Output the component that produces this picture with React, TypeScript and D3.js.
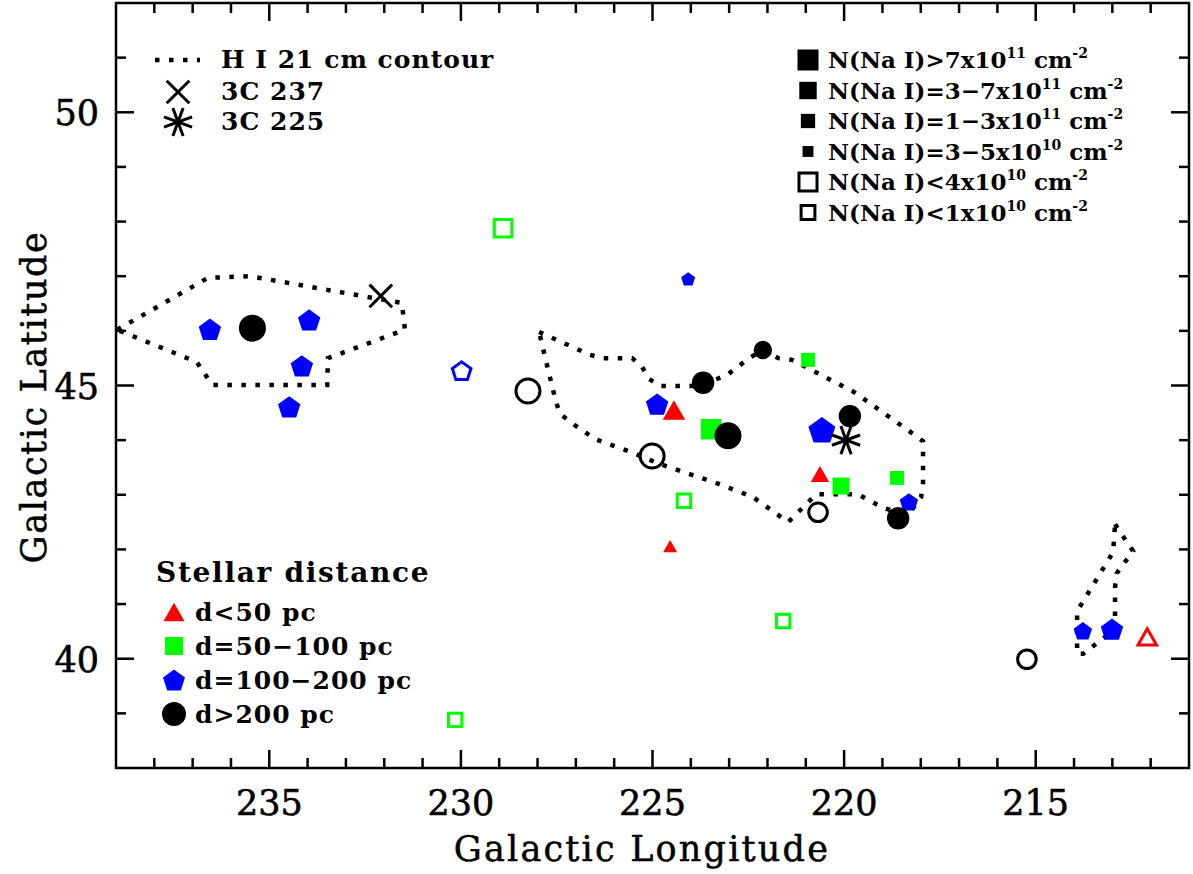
import React, { useEffect, useRef } from "react";
import * as d3 from "d3";

// H I 21 cm contours, [longitude, latitude]
const contourWest: [number, number][] = [
  [238.97, 46.02], [236.6, 46.97], [235.5, 47.0], [231.54, 46.51], [231.46, 46.02],
  [233.47, 45.5], [233.49, 45.01], [236.49, 45.01], [236.89, 45.43],
];
const contourCentral: [number, number][] = [
  [227.96, 45.98], [226.63, 45.56], [226.29, 45.5], [225.53, 45.5], [225.27, 45.34],
  [225.09, 45.12], [224.8, 44.99], [223.8, 44.99], [223.06, 45.19], [222.48, 45.5],
  [222.12, 45.65], [221.72, 45.5], [221.36, 45.47], [219.74, 44.88], [218.23, 44.13],
  [217.94, 43.98], [217.94, 43.22], [217.99, 42.96], [218.2, 42.76], [218.46, 42.65],
  [218.98, 42.76], [219.64, 43.01], [220.73, 43.01], [221.46, 42.5], [222.38, 42.96],
  [223.39, 43.23], [224.8, 43.56], [225.48, 43.76], [226.5, 44.02], [227.1, 44.31],
  [227.41, 44.48], [227.52, 44.7], [227.78, 45.45],
];
const contourEast: [number, number][] = [
  [212.93, 42.46], [212.46, 41.97], [212.88, 41.57], [212.93, 41.31], [212.93, 40.54],
  [213.76, 40.09], [213.92, 40.09], [213.92, 40.87], [212.98, 41.95],
];

// N(Na I) bins
const naBins = ["gt7e11", "3to7e11", "1to3e11", "3to5e10", "lt4e10", "lt1e10"];
const upperLimits = ["lt4e10", "lt1e10"];
const naLabels = [
  { text: "N(Na I)>7x10", exp: "11" },
  { text: "N(Na I)=3\u22127x10", exp: "11" },
  { text: "N(Na I)=1\u22123x10", exp: "11" },
  { text: "N(Na I)=3\u22125x10", exp: "10" },
  { text: "N(Na I)<4x10", exp: "10" },
  { text: "N(Na I)<1x10", exp: "10" },
];

// stars: [longitude, latitude, N(Na I) bin]
const starsNear: [number, number, string][] = [
  [224.44, 44.55, "3to7e11"],
  [220.63, 43.38, "1to3e11"],
  [224.54, 42.06, "3to5e10"],
  [212.09, 40.4, "lt1e10"],
];
const starsMid: [number, number, string][] = [
  [228.9, 47.88, "lt4e10"],
  [223.47, 44.2, "gt7e11"],
  [224.18, 42.89, "lt1e10"],
  [220.94, 45.47, "1to3e11"],
  [220.08, 43.16, "3to7e11"],
  [218.62, 43.31, "1to3e11"],
  [221.59, 40.69, "lt1e10"],
  [230.15, 38.88, "lt1e10"],
];
const starsFar: [number, number, string][] = [
  [236.55, 46.03, "3to7e11"],
  [233.96, 46.2, "3to7e11"],
  [234.15, 45.36, "3to7e11"],
  [234.48, 44.61, "3to7e11"],
  [229.98, 45.27, "lt1e10"],
  [224.07, 46.95, "3to5e10"],
  [224.88, 44.66, "3to7e11"],
  [220.58, 44.19, "gt7e11"],
  [218.31, 42.87, "1to3e11"],
  [213.77, 40.51, "1to3e11"],
  [213.01, 40.54, "3to7e11"],
];
const starsDistant: [number, number, string][] = [
  [235.44, 46.05, "gt7e11"],
  [228.25, 44.9, "lt4e10"],
  [225.01, 43.71, "lt4e10"],
  [223.68, 45.05, "3to7e11"],
  [223.03, 44.08, "gt7e11"],
  [222.12, 45.65, "1to3e11"],
  [219.85, 44.44, "3to7e11"],
  [218.59, 42.57, "3to7e11"],
  [220.68, 42.68, "lt1e10"],
  [215.23, 39.99, "lt1e10"],
];

const distanceGroups = [
  { label: "d<50 pc", shape: "triangle", color: "#ff0000", stars: starsNear },
  { label: "d=50\u2212100 pc", shape: "square", color: "#00ff00", stars: starsMid },
  { label: "d=100\u2212200 pc", shape: "pentagon", color: "#0000ff", stars: starsFar },
  { label: "d>200 pc", shape: "circle", color: "#000000", stars: starsDistant },
];

const radioSources = [
  { name: "3C 237", lon: 232.09, lat: 46.64, marker: "cross" },
  { name: "3C 225", lon: 219.95, lat: 44.0, marker: "asterisk" },
];

const lonTicks = [235, 230, 225, 220, 215];
const latTicks = [50, 45, 40];

const width = 1193;
const height = 874;
const margin = { top: 3, right: 4, bottom: 106, left: 116 };
const serif = "'DejaVu Serif', serif";

const baseWidth: Record<string, number> = { circle: 27, square: 20.5, pentagon: 27, triangle: 27 };

const markerPath = (shape: string, w: number) => {
  if (shape === "circle") return d3.symbol(d3.symbolCircle, Math.PI * (w / 2) ** 2)();
  if (shape === "square") return d3.symbol(d3.symbolSquare, w * w)();
  if (shape === "triangle") {
    const h = w * 0.87;
    return `M0,${-h / 2}L${w / 2},${h / 2}L${-w / 2},${h / 2}Z`;
  }
  // pentagon, point up, bbox centred
  const R = w / 1.902;
  const dy = 0.0955 * R;
  const pts = d3.range(5).map((i) => {
    const a = -Math.PI / 2 + (i * 2 * Math.PI) / 5;
    return [R * Math.cos(a), R * Math.sin(a) + dy];
  });
  return "M" + pts.map((p) => p.join(",")).join("L") + "Z";
};

const drawSource = (g: any, marker: string, x: number, y: number) => {
  const angles = marker === "cross" ? [45, 135] : [20, 70, 110, 160];
  const r = marker === "cross" ? 16 : 15;
  angles.forEach((deg) => {
    const a = (deg * Math.PI) / 180;
    g.append("line")
      .attr("x1", x - r * Math.cos(a))
      .attr("y1", y - r * Math.sin(a))
      .attr("x2", x + r * Math.cos(a))
      .attr("y2", y + r * Math.sin(a))
      .attr("stroke", "#000")
      .attr("stroke-width", 3);
  });
};

const App = () => {
  const svgRef = useRef<SVGSVGElement>(null);

  useEffect(() => {
    document.body.style.margin = "0";
    const svg = d3.select(svgRef.current).attr("width", width).attr("height", height);
    svg.selectAll("*").remove();

    const innerWidth = width - margin.left - margin.right;
    const innerHeight = height - margin.top - margin.bottom;

    const x = d3.scaleLinear().domain([239, 211]).range([0, innerWidth]);
    const y = d3.scaleLinear().domain([38, 52]).range([innerHeight, 0]);
    const scaleFor = d3.scaleOrdinal<string, number>().domain(naBins).range([1, 0.83, 0.68, 0.52, 1, 0.8]);

    const g = svg.append("g").attr("transform", `translate(${margin.left},${margin.top})`);

    svg
      .append("defs")
      .append("clipPath")
      .attr("id", "plot-clip")
      .append("rect")
      .attr("width", innerWidth)
      .attr("height", innerHeight);

    // contours
    const contourLine = d3
      .line<[number, number]>()
      .x((d) => x(d[0]))
      .y((d) => y(d[1]))
      .curve(d3.curveLinearClosed);
    g.append("g")
      .attr("clip-path", "url(#plot-clip)")
      .selectAll("path")
      .data([contourWest, contourCentral, contourEast])
      .join("path")
      .attr("d", (d) => contourLine(d))
      .attr("fill", "none")
      .attr("stroke", "#000")
      .attr("stroke-width", 4.5)
      .attr("stroke-dasharray", "4.5,9.5");

    // stars
    distanceGroups.forEach((grp) => {
      g.append("g")
        .selectAll("path")
        .data(grp.stars)
        .join("path")
        .attr("transform", (d) => `translate(${x(d[0])},${y(d[1])})`)
        .attr("d", (d) => {
          const w = baseWidth[grp.shape] * scaleFor(d[2]);
          return markerPath(grp.shape, upperLimits.includes(d[2]) ? w - 3 : w);
        })
        .attr("fill", (d) => (upperLimits.includes(d[2]) ? "none" : grp.color))
        .attr("stroke", (d) => (upperLimits.includes(d[2]) ? grp.color : "none"))
        .attr("stroke-width", 3);
    });

    // radio sources
    radioSources.forEach((s) => drawSource(g, s.marker, x(s.lon), y(s.lat)));

    // frame
    g.append("rect")
      .attr("width", innerWidth)
      .attr("height", innerHeight)
      .attr("fill", "none")
      .attr("stroke", "#000")
      .attr("stroke-width", 2.5);

    // ticks on all four sides
    const ticks = g.append("g").attr("stroke", "#000").attr("stroke-width", 2.5);
    d3.range(212, 239).forEach((v) => {
      const len = v % 5 === 0 ? 18 : 10;
      ticks.append("line").attr("x1", x(v)).attr("x2", x(v)).attr("y1", innerHeight).attr("y2", innerHeight - len);
      ticks.append("line").attr("x1", x(v)).attr("x2", x(v)).attr("y1", 0).attr("y2", len);
    });
    d3.range(39, 52).forEach((v) => {
      const len = v % 5 === 0 ? 18 : 10;
      ticks.append("line").attr("y1", y(v)).attr("y2", y(v)).attr("x1", 0).attr("x2", len);
      ticks.append("line").attr("y1", y(v)).attr("y2", y(v)).attr("x1", innerWidth).attr("x2", innerWidth - len);
    });

    // tick labels
    g.append("g")
      .selectAll("text")
      .data(lonTicks)
      .join("text")
      .attr("x", (d) => x(d))
      .attr("y", innerHeight + 47)
      .attr("text-anchor", "middle")
      .style("font-family", serif)
      .style("font-size", "35px")
      .style("stroke", "#000")
      .style("stroke-width", "0.6px")
      .text((d) => d);
    g.append("g")
      .selectAll("text")
      .data(latTicks)
      .join("text")
      .attr("x", -17)
      .attr("y", (d) => y(d) + 13)
      .attr("text-anchor", "end")
      .style("font-family", serif)
      .style("font-size", "35px")
      .style("stroke", "#000")
      .style("stroke-width", "0.6px")
      .text((d) => d);

    // axis titles
    svg
      .append("text")
      .attr("x", 642)
      .attr("y", 861)
      .attr("text-anchor", "middle")
      .style("font-family", serif)
      .style("font-size", "35px")
      .style("letter-spacing", "2.2px")
      .style("stroke", "#000")
      .style("stroke-width", "0.5px")
      .text("Galactic Longitude");
    svg
      .append("text")
      .attr("transform", "translate(46,397) rotate(-90)")
      .attr("text-anchor", "middle")
      .style("font-family", serif)
      .style("font-size", "35px")
      .style("letter-spacing", "1.6px")
      .style("stroke", "#000")
      .style("stroke-width", "0.5px")
      .text("Galactic Latitude");

    const legendText = (sel: any, tx: number, ty: number, label: string, size = 25, spacing = 1) =>
      sel
        .append("text")
        .attr("x", tx)
        .attr("y", ty)
        .style("font-family", serif)
        .style("font-weight", "bold")
        .style("font-size", `${size}px`)
        .style("letter-spacing", `${spacing}px`)
        .text(label);

    // top-left legend
    svg
      .append("line")
      .attr("x1", 155)
      .attr("x2", 200)
      .attr("y1", 60)
      .attr("y2", 60)
      .attr("stroke", "#000")
      .attr("stroke-width", 4.5)
      .attr("stroke-dasharray", "4.5,9.5");
    legendText(svg, 221, 68, "H I 21 cm contour");
    radioSources.forEach((s, i) => {
      drawSource(svg, s.marker, 178, 92 + i * 30);
      legendText(svg, 221, 100 + i * 30, s.name);
    });

    // top-right legend: N(Na I)
    naBins.forEach((bin, i) => {
      const cy = 60 + i * 30.5;
      const open = upperLimits.includes(bin);
      const w = 21 * scaleFor(bin);
      svg
        .append("path")
        .attr("transform", `translate(808,${cy})`)
        .attr("d", markerPath("square", open ? w - 3 : w))
        .attr("fill", open ? "none" : "#000")
        .attr("stroke", open ? "#000" : "none")
        .attr("stroke-width", 3);
      const t = legendText(svg, 828, cy + 8, "", 23, 0);
      t.append("tspan").text(naLabels[i].text);
      t.append("tspan").attr("dy", -10).style("font-size", "14px").text(naLabels[i].exp);
      t.append("tspan").attr("dy", 10).text(" cm");
      t.append("tspan").attr("dy", -10).style("font-size", "14px").text("-2");
    });

    // bottom-left legend: stellar distance
    legendText(svg, 156, 582, "Stellar distance", 28, 1.7);
    distanceGroups.forEach((grp, i) => {
      const cy = 612 + i * 34;
      const w = grp.shape === "square" ? 18 : grp.shape === "triangle" ? 21 : grp.shape === "circle" ? 24 : 22;
      svg
        .append("path")
        .attr("transform", `translate(174,${cy})`)
        .attr("d", markerPath(grp.shape, w))
        .attr("fill", grp.color);
      legendText(svg, 195, cy + 9, grp.label);
    });
  }, []);

  return <svg ref={svgRef} style={{ display: "block" }}></svg>;
};

export default App;
